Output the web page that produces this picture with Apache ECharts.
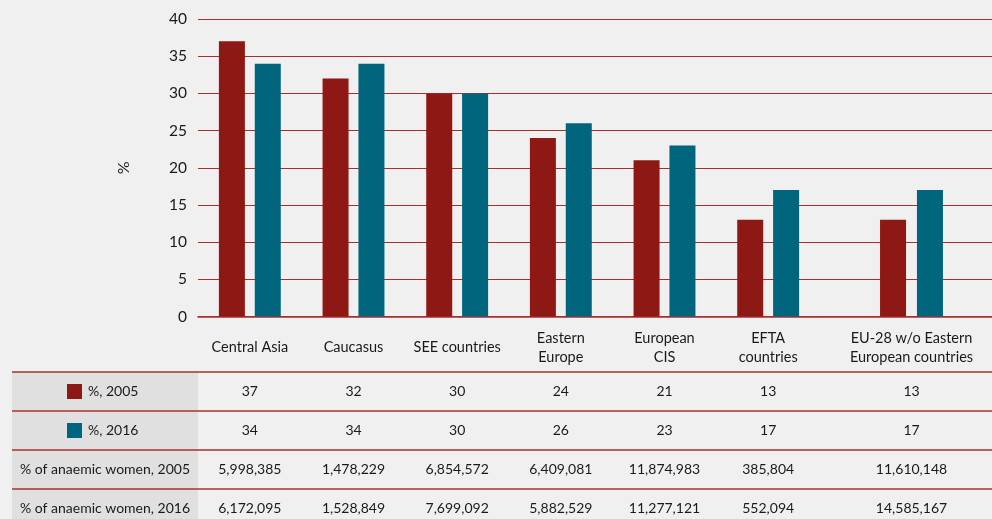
<!DOCTYPE html>
<html>
<head>
<meta charset="utf-8">
<script src="https://cdn.jsdelivr.net/npm/echarts@6/dist/echarts.min.js"></script>
<style>
html,body{margin:0;padding:0;background:#f0f0f0;}
#main{width:992px;height:519px;}
</style>
</head>
<body>
<div id="main"></div>
<script>
// ---- data ----
const categories = ['Central Asia', 'Caucasus', 'SEE countries', 'Eastern\nEurope', 'European\nCIS', 'EFTA\ncountries', 'EU-28 w/o Eastern\nEuropean countries'];
const values2005 = [37, 32, 30, 24, 21, 13, 13];
const values2016 = [34, 34, 30, 26, 23, 17, 17];
const anaemic2005 = [5998385, 1478229, 6854572, 6409081, 11874983, 385804, 11610148];
const anaemic2016 = [6172095, 1528849, 7699092, 5882529, 11277121, 552094, 14585167];
const seriesNames = ['%, 2005', '%, 2016'];
const rowLabels = ['%, 2005', '%, 2016', '% of anaemic women, 2005', '% of anaemic women, 2016'];
const yTicks = { min: 0, max: 40, interval: 5 };

// ---- style ----
const RED = '#8e1814';
const TEAL = '#00657d';
const LINE = '#a8302c';
const FONT = 'Lato';
const TXT = '#1a1a1a';

const chart = echarts.init(document.getElementById('main'), null, { renderer: 'canvas' });
const nMain = categories.length - 1;

const labelStyle = { interval: 0, margin: 31, verticalAlign: 'middle', fontFamily: FONT, fontSize: 14.5, color: TXT, lineHeight: 19 };
const yBase = { type: 'value', min: yTicks.min, max: yTicks.max, interval: yTicks.interval, axisLine: { show: false }, axisTick: { show: false } };
const plotTop = 19, plotH = 297.5;

chart.setOption({
  backgroundColor: '#f0f0f0',
  animation: false,
  grid: [
    { left: 198, top: plotTop, width: 622, height: plotH },   // main categories
    { left: 831, top: plotTop, right: 0, height: plotH },     // wide last category
    { left: 198, top: plotTop, right: 0, height: plotH }      // full-width frame (gridlines + axis line)
  ],
  xAxis: [
    { gridIndex: 0, type: 'category', data: categories.slice(0, nMain), axisLine: { show: false },
      axisTick: { inside: true, length: 6, lineStyle: { color: LINE, width: 1.2 } }, axisLabel: labelStyle, z: 5 },
    { gridIndex: 1, type: 'category', data: categories.slice(nMain), axisLine: { show: false },
      axisTick: { show: false }, axisLabel: labelStyle },
    { gridIndex: 2, type: 'value', min: 0, max: 1, axisLine: { onZero: false, lineStyle: { color: LINE, width: 1.5 } },
      axisTick: { show: false }, axisLabel: { show: false }, splitLine: { show: false } }
  ],
  yAxis: [
    Object.assign({ gridIndex: 0, name: '%', nameLocation: 'middle', nameGap: 66,
      nameTextStyle: { fontFamily: FONT, fontSize: 16, color: TXT },
      axisLabel: { margin: 11, fontFamily: FONT, fontSize: 15.5, color: TXT }, splitLine: { show: false } }, yBase),
    Object.assign({ gridIndex: 1, axisLabel: { show: false }, splitLine: { show: false } }, yBase),
    Object.assign({ gridIndex: 2, axisLabel: { show: false }, splitLine: { lineStyle: { color: LINE, width: 1.2 } } }, yBase)
  ],
  series: [
    { name: seriesNames[0], type: 'bar', xAxisIndex: 0, yAxisIndex: 0, data: values2005.slice(0, nMain), barWidth: 26, barGap: '38%', itemStyle: { color: RED }, z: 3 },
    { name: seriesNames[1], type: 'bar', xAxisIndex: 0, yAxisIndex: 0, data: values2016.slice(0, nMain), barWidth: 26, barGap: '38%', itemStyle: { color: TEAL }, z: 3 },
    { name: seriesNames[0], type: 'bar', xAxisIndex: 1, yAxisIndex: 1, data: values2005.slice(nMain), barWidth: 26, barGap: '42%', itemStyle: { color: RED }, z: 3 },
    { name: seriesNames[1], type: 'bar', xAxisIndex: 1, yAxisIndex: 1, data: values2016.slice(nMain), barWidth: 26, barGap: '42%', itemStyle: { color: TEAL }, z: 3 }
  ]
});

// ---- data table below the chart ----
const colX = categories.map((c, i) => i < nMain
  ? chart.convertToPixel({ xAxisIndex: 0 }, i)
  : chart.convertToPixel({ xAxisIndex: 1 }, i - nMain));
const tableTop = 372, rowH = 39, headLeft = 12, headRight = 198;
const tableRows = [values2005, values2016, anaemic2005, anaemic2016];
const fmt = v => v >= 1000 ? v.toLocaleString('en-US') : String(v);
const g = [];
g.push({ type: 'rect', shape: { x: headLeft, y: tableTop, width: headRight - headLeft, height: 519 - tableTop }, style: { fill: '#e0e0e0' }, silent: true });
for (let r = 0; r < 4; r++) {
  const y = tableTop + r * rowH;
  g.push({ type: 'line', shape: { x1: headLeft, y1: y, x2: 992, y2: y }, style: { stroke: LINE, lineWidth: 1.5 }, silent: true });
}
tableRows.forEach((row, r) => {
  const cy = tableTop + r * rowH + rowH / 2;
  if (r < 2) {
    g.push({ type: 'rect', shape: { x: 67, y: cy - 7.5, width: 15, height: 15 }, style: { fill: r === 0 ? RED : TEAL } });
    g.push({ type: 'text', x: 88, y: cy, style: { text: rowLabels[r], fontFamily: FONT, fontSize: 14, fill: TXT, align: 'left', verticalAlign: 'middle' } });
  } else {
    g.push({ type: 'text', x: (headLeft + headRight) / 2, y: cy, style: { text: rowLabels[r], fontFamily: FONT, fontSize: 14, fill: TXT, align: 'center', verticalAlign: 'middle' } });
  }
  row.forEach((v, i) => {
    g.push({ type: 'text', x: colX[i], y: cy, style: { text: fmt(v), fontFamily: FONT, fontSize: 14, fill: TXT, align: 'center', verticalAlign: 'middle' } });
  });
});
chart.setOption({ graphic: g });
</script>
</body>
</html>
